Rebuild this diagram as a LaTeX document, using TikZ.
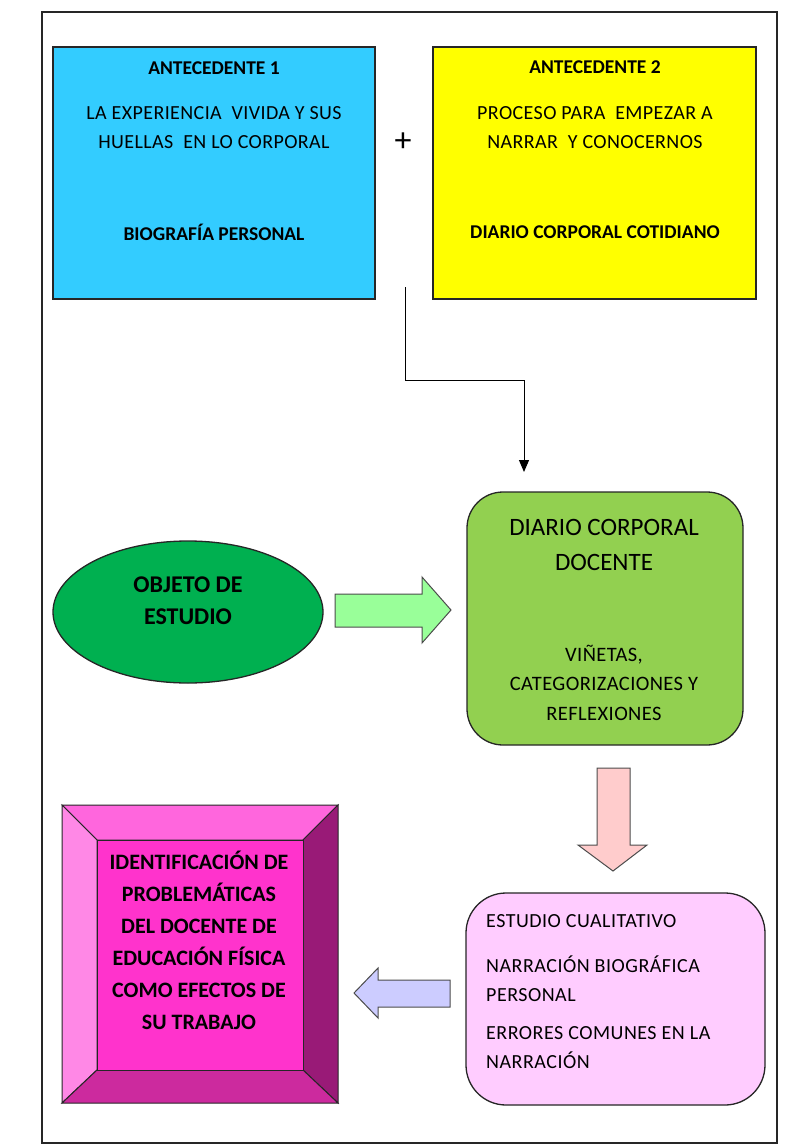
\documentclass[tikz,border=0pt]{standalone}
\usepackage{fontspec}
\setmainfont{Carlito}
\usetikzlibrary{arrows.meta,shapes.geometric}
\definecolor{cblue}{HTML}{33CCFF}
\definecolor{cyel}{HTML}{FFFF00}
\definecolor{cgreen}{HTML}{00B050}
\definecolor{cgbox}{HTML}{92D050}
\definecolor{carrg}{HTML}{99FF99}
\definecolor{carrp}{HTML}{FFCCCC}
\definecolor{carrl}{HTML}{CCCCFF}
\definecolor{cpbox}{HTML}{FFCCFF}
\definecolor{bvc}{HTML}{FF33CC}
\definecolor{bvt}{HTML}{FF66DD}
\definecolor{bvl}{HTML}{FF88E6}
\definecolor{bvr}{HTML}{991A77}
\definecolor{bvb}{HTML}{CC2A9E}
\begin{document}
\begin{tikzpicture}[x=1pt,y=-1pt,
  box/.style={draw=black!85, line width=1.3pt, inner sep=0pt},
  txt/.style={align=center, inner sep=0pt, font=\fontsize{20}{29}\selectfont\addfontfeature{LetterSpace=2}},
  btxt/.style={align=center, inner sep=0pt, font=\fontsize{19.5}{29}\selectfont\bfseries},
  gtitle/.style={align=center, inner sep=0pt, font=\fontsize{25}{35}\selectfont},
  gsmall/.style={align=center, inner sep=0pt, font=\fontsize{20.5}{29.5}\selectfont\addfontfeature{LetterSpace=2}},
  ltxt/.style={align=left, inner sep=0pt, anchor=west, font=\fontsize{20}{29}\selectfont\addfontfeature{LetterSpace=2.5}},
  blockarrow/.style={draw=black!70, line width=1pt, line join=miter}]
\useasboundingbox (0,0) rectangle (795,1145);
\draw[line width=1.2pt, black!85] (42,12) rectangle (777,1143);

% top boxes
\node[box, fill=cblue, minimum width=322pt, minimum height=252pt] (ant1) at (214,173) {};
\node[box, fill=cyel, minimum width=323pt, minimum height=252pt] (ant2) at (594.5,173) {};
\node[btxt] (a1t) at (214,68) {ANTECEDENTE 1};
\node[txt] (a1m) at (214,127.5) {LA EXPERIENCIA \ VIVIDA Y SUS\\HUELLAS \ EN LO CORPORAL};
\node[btxt] (a1b) at (214,232) {BIOGRAFÍA PERSONAL};
\node[btxt] (a2t) at (595,67) {ANTECEDENTE 2};
\node[txt] (a2m) at (595,127.5) {PROCESO PARA \ EMPEZAR A\\NARRAR \ Y CONOCERNOS};
\node[btxt] (a2b) at (595,232) {DIARIO CORPORAL COTIDIANO};
\node[inner sep=0pt, font=\fontsize{34}{34}\selectfont] (plus) at (403,142) {+};

% connector
\coordinate (cs) at (405,287);
\coordinate (cb) at (405,380);
\coordinate (ce) at (524,472);
\draw[line width=1pt, -{Triangle[length=12pt,width=10pt]}] (cs) -- (cb) -| (ce);

% ellipse
\node[ellipse, draw=black!85, line width=1.3pt, fill=cgreen, minimum width=270pt, minimum height=142pt, inner sep=0pt] (obj) at (188,612) {};
\node[align=center, inner sep=0pt, font=\fontsize{24}{32}\selectfont\bfseries] (objt) at (188,601) {OBJETO DE\\ESTUDIO};

% green box
\node[box, fill=cgbox, rounded corners=36pt, minimum width=276pt, minimum height=253pt] (diario) at (605,618.5) {};
\node[gtitle] (dt) at (604,544.5) {DIARIO CORPORAL\\DOCENTE};
\node[gsmall] (dm) at (604,682.5) {VIÑETAS,\\CATEGORIZACIONES Y\\REFLEXIONES};

% right block arrow
\draw[blockarrow, fill=carrg] (335,594) -- (422,594) -- (422,577) -- (451,610) -- (422,643) -- (422,627) -- (335,627) -- cycle;

% down block arrow
\draw[blockarrow, fill=carrp] (597,768) -- (630,768) -- (630,845) -- (647,845) -- (613,871) -- (578,845) -- (597,845) -- cycle;

% pink box
\node[box, fill=cpbox, rounded corners=40pt, minimum width=299pt, minimum height=212pt] (est) at (615.5,999) {};
\node[ltxt] (e1) at (486,921) {ESTUDIO CUALITATIVO};
\node[ltxt] (e2) at (486,978.5) {NARRACIÓN BIOGRÁFICA\\PERSONAL};
\node[ltxt] (e3) at (486,1048) {ERRORES COMUNES EN LA\\NARRACIÓN};

% left block arrow
\draw[blockarrow, fill=carrl] (450,980) -- (378,980) -- (378,968) -- (354,993) -- (378,1018) -- (378,1007) -- (450,1007) -- cycle;

% bevel box
\begin{scope}[line width=1pt, draw=black!85]
\filldraw[fill=bvt] (62,805) -- (338,805) -- (303,840) -- (97,840) -- cycle;
\filldraw[fill=bvl] (62,805) -- (97,840) -- (97,1070) -- (62,1103) -- cycle;
\filldraw[fill=bvr] (338,805) -- (338,1103) -- (303,1070) -- (303,840) -- cycle;
\filldraw[fill=bvb] (62,1103) -- (97,1070) -- (303,1070) -- (338,1103) -- cycle;
\end{scope}
\node[draw=black!85, line width=1pt, fill=bvc, minimum width=206pt, minimum height=230pt, inner sep=0pt] (ident) at (200,955) {};
\node[align=center, inner sep=0pt, font=\fontsize{22}{32}\selectfont\bfseries] (identt) at (199,940) {IDENTIFICACIÓN DE\\PROBLEMÁTICAS\\DEL DOCENTE DE\\EDUCACIÓN FÍSICA\\COMO EFECTOS DE\\SU TRABAJO};
\end{tikzpicture}
\end{document}
